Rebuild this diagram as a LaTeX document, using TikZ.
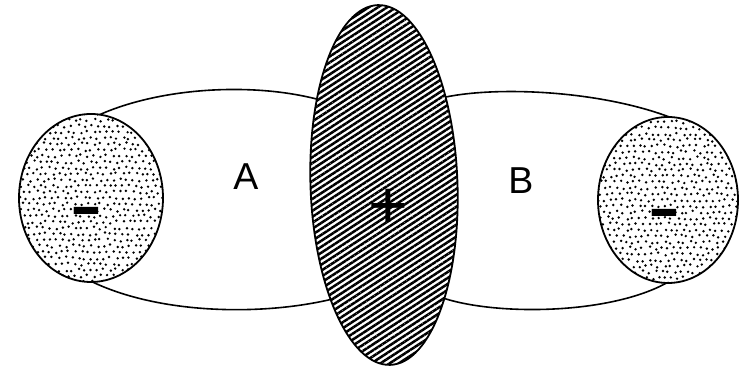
\documentclass[tikz,border=0pt]{standalone}
\usepackage{fontspec}
\setmainfont{Liberation Sans}
\usetikzlibrary{shapes.geometric,patterns.meta}
\tikzset{
  blob/.style={ellipse, draw, line width=1.8pt, inner sep=0pt, outer sep=0pt},
  hatched/.style={blob, pattern={Lines[angle=33,distance=5pt,line width=2.5pt]}},
  lens/.style={line width=1.6pt},
  lbl/.style={font=\fontsize{37.5}{38}\selectfont, inner sep=0pt},
  sign/.style={inner sep=0pt, font=\fontsize{60}{60}\selectfont\bfseries},
  speck/.style={fill=black},
}
\newcommand{\speckle}[4]{% cx, cy, rx, ry
  \begin{scope}
    \clip (#1,#2) ellipse [x radius=#3, y radius=#4];
    \foreach \i in {-13,...,13}{ \foreach \j in {-15,...,15}{
        \pgfmathsetmacro{\dx}{#1 + \i*6.4 + mod(\j+40,2)*3.2 + 1.5*rand}
        \pgfmathsetmacro{\dy}{#2 + \j*6.0 + 1.5*rand}
        \fill[speck] (\dx,\dy) circle (1.35);
    }}
  \end{scope}}
\begin{document}
\begin{tikzpicture}[x=1pt,y=1pt]
\useasboundingbox (0,0) rectangle (740,366);
\pgfmathsetseed{7}
% speckled charges (texture)
\speckle{91}{168}{72}{84}
\speckle{668}{166}{70}{83}
% charges
\node[blob, minimum width=144, minimum height=168] (L) at (91,168) {};
\node[blob, minimum width=140, minimum height=166] (R) at (668,166) {};
\node[hatched, minimum width=147, minimum height=360, rotate=2] (C) at (384,181) {};
% field lines
\draw[lens] (L.84) .. controls (160,278) and (250,284) .. (C.126);
\draw[lens] (L.-89) .. controls (160,52) and (260,50) .. (C.-117);
\draw[lens] (C.53) .. controls (500,280) and (600,275) .. (R.89);
\draw[lens] (C.-64) .. controls (500,50) and (610,52) .. (R.-91);
% labels
\node[lbl] (A) at (246,189) {A};
\node[lbl] (B) at (521,185) {B};
\node[sign] (mL) at (86,149) {\scalebox{1.6}[1]{-}};
\node[sign] (mR) at (664,147) {\scalebox{1.6}[1]{-}};
\node[inner sep=0pt, font=\fontsize{68}{68}\selectfont] (P) at (388,157) {+};
\end{tikzpicture}
\end{document}
